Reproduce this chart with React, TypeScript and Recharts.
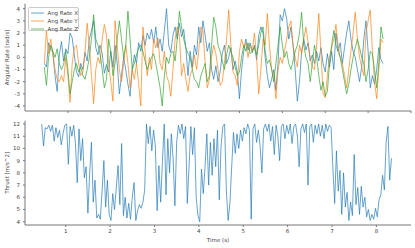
import React from 'react';
import { LineChart, Line, XAxis, YAxis, Legend } from 'recharts';

// ---- Angular rate series (sampled every 0.05 s starting at 0.45 s) ----
const rateStart = 0.45;
const rateStep = 0.05;
const angRateX = [
  -0.5, -0.8, 1.2, 0.6, 0.4, -1.5, -2.8, 0.2, 1.3, -0.3, 0.7,
  0.3, 2.0, 1.6, 0.2, -1.2, -1.6, -0.5, -1.0, 0.4, -0.3, 1.5, 2.2, 3.0, 0.8, 0.2, 1.0, 0.3, -1.3, -0.6, -1.2,
  0.5, -0.8, 1.0, -0.5, -3.0, -1.5, 0.0, -1.0, -2.2, -3.2, -1.0, 0.2, -0.5, 1.2, 0.5, 1.8, 1.0, 2.0, 1.5, 2.3,
  1.2, 2.5, 0.8, 1.5, 0.5, 2.2, 4.0, 1.0, 0.4, 1.8, 2.5, 1.5, 2.8, 1.7, 2.3, 0.8, -1.5, 0.5, -0.8, 1.0,
  0.2, 2.5, 1.2, 3.0, 1.8, 0.5, 1.2, -1.0, -1.8, -0.7, -2.0, -1.2, 0.3, 1.0, -0.5, 0.0, 0.8, -1.0, -0.3, -1.2,
  -3.4, -1.0, 0.5, 1.5, 0.6, 1.2, 0.4, 1.0, -0.2, 1.8, 2.5, 2.0, 0.0, -1.5, -2.5, -1.8, -1.0, -2.7, -0.5, 3.5,
  3.0, 4.0, 3.2, 1.5, 2.5, 1.0, -1.0, -3.6, -2.0, 0.5, 1.5, 0.6, 1.2, -0.3, 0.2, -0.5, 0.5, -0.3, 0.8, -0.5,
  -1.2, 0.3, -0.8, 0.5, -1.0, 2.0, 0.5, 1.2, -0.5, 0.8, 2.0, 3.0, 1.5, 0.5, 0.0, -1.0, -2.0, -0.8, 1.5, 3.0,
  0.5, -2.5, -1.5, -2.2, -1.0, 0.8, -0.2, -0.5,
];
const angRateY = [
  -0.5, 2.2, 0.3, 1.5, 0.2, -1.0, -1.8, -2.0, -1.5, -2.0, 0.0,
  -1.5, -3.7, -0.5, 0.8, 1.0, -0.5, -1.5, -1.2, 0.5, 2.8, 1.0, -1.5, -3.8, -1.0, 0.0, -0.5, 1.5, 2.7, 1.8, -0.5,
  -2.0, -3.6, 3.0, 1.0, -1.0, -2.0, -0.5, 1.0, -0.5, -2.5, -1.0, -1.8, -0.5, -2.2, -4.0, 2.5, 0.5, -1.5, 0.0, -1.0,
  1.5, 0.8, 1.6, -0.5, -1.0, 0.5, -1.5, -2.0, -3.2, -1.0, 1.5, 2.5, 1.8, -1.5, -0.5, -1.8, -2.8, -1.5, -1.0, 0.2,
  -1.0, 0.5, 2.5, 2.2, -0.5, -2.5, -1.8, 0.0, 1.0, 0.3, -1.0, -2.3, -2.0, -0.5, 1.5, 3.9, 1.0, -1.2, -1.5, -2.3,
  0.5, 1.5, 0.8, 1.2, 0.0, 1.0, 0.5, 2.0, 0.0, -3.0, -1.0, 1.5, 1.0, 3.6, 1.0, -1.0, -1.5, -3.4, -1.0, 0.0,
  -0.5, 0.5, 1.5, 2.5, 3.0, 1.0, 0.0, -0.8, 1.0, 0.3, 1.5, 2.5, 1.2, 0.0, -0.8, -1.0, 1.0, 3.6, 0.5, -3.0,
  -3.3, -1.5, 0.0, 0.8, 1.5, 2.7, 1.0, 0.0, -0.5, -1.5, -2.5, -1.0, 0.5, 2.0, 3.7, 1.5, 0.0, -0.8, -1.5, 2.0,
  3.0, 3.9, 0.5, -2.0, -3.4, -1.0, 1.5, 1.2,
];
const angRateZ = [
  -0.8, -2.3, 0.0, 1.0, 0.5, 0.0, 0.7, -0.5, -1.0, -0.6, 0.5,
  -1.0, -3.0, -2.0, -1.0, -0.5, -1.2, -0.8, -1.5, -1.8, -1.0, 0.0, 1.5, 3.5, 1.5, 1.0, 0.3, -1.0, -2.5, -1.8, 1.5,
  0.5, -1.5, -0.5, 1.5, 3.0, 1.5, 0.0, 1.0, 3.8, 1.5, -1.0, -0.5, 0.2, 0.8, 1.0, 0.5, -0.3, -1.0, -0.5, 0.0,
  0.3, -0.5, -1.5, -2.5, -4.0, -1.5, 0.0, -0.5, 0.3, 0.5, -0.3, 1.5, 3.8, 2.5, 1.5, 0.8, 0.3, 0.0, -1.0, -1.8,
  -2.0, -2.5, -1.5, -1.0, -0.5, -2.0, -1.5, 1.0, 3.3, 2.5, 1.0, 0.5, -0.3, -1.0, 0.2, 1.0, 0.5, 0.0, -0.8, -1.5,
  -1.2, 0.0, 1.0, 0.5, 1.2, 0.3, 0.5, 0.8, 0.2, 1.0, 2.0, 2.5, 0.5, -0.5, -0.2, -1.0, -2.0, -0.5, 1.0, 2.5,
  1.0, 0.0, 0.5, -0.5, -1.0, -0.3, 0.5, 1.0, 2.0, 3.7, 1.0, 0.0, -0.5, -2.0, -0.5, 1.0, 0.0, -1.5, -2.7, -2.0,
  -3.2, -2.8, -0.5, 1.0, 2.2, 1.0, 0.5, 0.0, -1.0, -2.0, -3.0, -2.2, -1.0, 0.0, 0.8, 1.5, 0.8, 0.0, -0.5, -2.0,
  -1.0, 0.5, 0.3, -1.0, -2.5, -0.5, 2.5, 1.5,
];

// ---- Thrust series (sampled every 0.04 s starting at 0.46 s) ----
const thrustStart = 0.46;
const thrustStep = 0.04;
const thrust = [
  12.0, 10.2, 11.7, 11.6, 11.9, 11.4, 11.9, 10.6, 11.7, 10.9,
  11.5, 10.3, 11.2, 11.9, 12.0, 8.7, 11.8, 11.0, 11.9, 10.4,
  7.2, 11.6, 9.0, 10.8, 7.6, 8.5, 4.7, 8.0, 10.5, 5.6,
  7.4, 4.3, 4.6, 4.2, 6.5, 9.0, 5.2, 7.4, 4.6, 4.1,
  6.3, 5.0, 6.8, 8.6, 5.4, 10.4, 4.5, 6.0, 4.3, 5.5,
  4.2, 6.0, 7.2, 4.1, 4.9, 5.4, 5.1, 5.6, 6.6, 12.0,
  10.4, 11.8, 9.8, 11.5, 10.2, 4.9, 8.6, 5.6, 9.0, 12.0,
  6.2, 10.8, 8.0, 11.2, 9.2, 5.3, 10.5, 11.9, 11.2, 12.0,
  10.8, 11.8, 5.5, 8.6, 11.8, 9.5, 11.7, 6.0, 4.5, 4.0,
  8.3, 6.3, 8.5, 11.2, 7.0, 10.5, 7.8, 10.8, 8.5, 11.5,
  5.8, 10.2, 11.8, 12.0, 6.5, 4.1, 5.5, 8.5, 11.3, 9.6,
  11.2, 10.0, 11.5, 10.6, 11.7, 11.2, 12.0, 11.5, 4.2, 11.6,
  12.0, 10.5, 11.5, 10.2, 8.0, 11.6, 12.0, 11.4, 12.0, 10.6,
  11.8, 9.5, 11.9, 11.0, 9.0, 11.8, 12.0, 10.8, 11.9, 11.2,
  12.0, 10.4, 11.8, 12.0, 11.0, 8.5, 11.6, 12.0, 11.3, 12.0,
  7.0, 11.8, 12.0, 10.5, 11.9, 11.2, 12.0, 11.0, 11.9, 10.8,
  12.0, 11.4, 11.9, 11.7, 8.4, 5.5, 9.8, 6.5, 8.2, 4.6,
  8.0, 5.2, 6.4, 4.1, 5.6, 4.5, 9.5, 5.4, 6.8, 4.6,
  6.9, 5.2, 6.0, 4.4, 5.0, 4.1, 4.6, 4.2, 5.1, 4.4,
  5.8, 6.2, 7.8, 6.6, 10.5, 11.8, 7.4, 9.2,
];

// ---- Axis ticks / labels ----
const topTicksX = [1, 2, 3, 4, 5, 6, 7, 8, 9];
const bottomTicksX = [1, 2, 3, 4, 5, 6, 7, 8];
const rateTicks = [-4, -3, -2, -1, 0, 1, 2, 3, 4];
const thrustTicks = [4, 5, 6, 7, 8, 9, 10, 11, 12];
const seriesNames = ['Ang Rate X', 'Ang Rate Y', 'Ang Rate Z'];
const seriesKeys = ['x', 'y', 'z'];
const seriesColors = ['#1f77b4', '#ff7f0e', '#2ca02c'];

const rateData = angRateX.map((v, i) => ({
  t: +(rateStart + i * rateStep).toFixed(3),
  x: v,
  y: angRateY[i],
  z: angRateZ[i],
}));
const thrustData = thrust.map((v, i) => ({
  t: +(thrustStart + i * thrustStep).toFixed(3),
  thrust: v,
}));

const FONT = 'DejaVu Sans, sans-serif';
const tickStyle = { fontSize: 5.5, fill: '#444', fontFamily: FONT };
const axisColor = '#777';
const LINE_OPACITY = 0.68;

const LegendBox = () => (
  <div
    style={{
      border: '0.8px solid #ccc',
      borderRadius: 2,
      background: 'rgba(255,255,255,0.85)',
      width: 51,
      height: 24,
      boxSizing: 'border-box',
      paddingTop: 1,
      fontFamily: FONT,
    }}
  >
    {seriesNames.map((n, i) => (
      <div key={n} style={{ display: 'flex', alignItems: 'center', height: 8.1 }}>
        <svg width={16} height={4} style={{ display: 'block' }}>
          <line x1={2} y1={2} x2={15} y2={2} stroke={seriesColors[i]} strokeWidth={1} strokeOpacity={LINE_OPACITY} />
        </svg>
        <span style={{ fontSize: 5.5, color: '#444', marginLeft: 2.5, lineHeight: '6px', whiteSpace: 'nowrap' }}>{n}</span>
      </div>
    ))}
  </div>
);

export default function App() {
  return (
    <div style={{ position: 'absolute', left: 0, top: 0, width: 415, height: 248, background: '#fff' }}>
      <div style={{ position: 'absolute', left: 0, top: 0 }}>
        <LineChart width={415} height={120} data={rateData} margin={{ top: 3.7, right: 4, left: 0, bottom: 4 }}>
          <XAxis
            dataKey="t"
            type="number"
            domain={[0, 9]}
            ticks={topTicksX}
            tickFormatter={() => ''}
            height={5}
            tickSize={2}
            axisLine={{ stroke: axisColor }}
            tickLine={{ stroke: axisColor }}
            allowDataOverflow
          />
          <YAxis
            type="number"
            domain={[-4.41, 4.41]}
            ticks={rateTicks}
            width={25}
            tickSize={2}
            tickMargin={3}
            tick={tickStyle}
            axisLine={{ stroke: axisColor }}
            tickLine={{ stroke: axisColor }}
            allowDataOverflow
            label={{
              value: 'Angular Rate [rad/s]',
              angle: -90,
              position: 'center',
              dx: -5.5,
              style: { fontSize: 5.5, fill: '#444', fontFamily: FONT, textAnchor: 'middle' },
            }}
          />
          <Legend
            layout="vertical"
            align="center"
            verticalAlign="middle"
            wrapperStyle={{ left: 28, top: 7, width: 52 }}
            content={() => <LegendBox />}
          />
          {seriesKeys.map((k, i) => (
            <Line
              key={k}
              type="linear"
              dataKey={k}
              name={seriesNames[i]}
              stroke={seriesColors[i]}
              strokeWidth={1}
              strokeOpacity={LINE_OPACITY}
              dot={false}
              activeDot={false}
              isAnimationActive={false}
            />
          ))}
        </LineChart>
      </div>
      <div style={{ position: 'absolute', left: 0, top: 115 }}>
        <LineChart width={415} height={133} data={thrustData} margin={{ top: 5.7, right: 4, left: 0, bottom: 0 }}>
          <XAxis
            dataKey="t"
            type="number"
            domain={[0.083, 8.78]}
            ticks={bottomTicksX}
            height={23}
            tickSize={2}
            tickMargin={2}
            tick={tickStyle}
            axisLine={{ stroke: axisColor }}
            tickLine={{ stroke: axisColor }}
            allowDataOverflow
            label={{
              value: 'Time (s)',
              position: 'center',
              dy: 4,
              style: { fontSize: 5.5, fill: '#444', fontFamily: FONT, textAnchor: 'middle' },
            }}
          />
          <YAxis
            type="number"
            domain={[3.73, 12.27]}
            ticks={thrustTicks}
            width={25}
            tickSize={2}
            tickMargin={3}
            tick={tickStyle}
            axisLine={{ stroke: axisColor }}
            tickLine={{ stroke: axisColor }}
            allowDataOverflow
            label={{
              value: 'Thrust [m/s^2]',
              angle: -90,
              position: 'center',
              dx: -5.5,
              style: { fontSize: 5.5, fill: '#444', fontFamily: FONT, textAnchor: 'middle' },
            }}
          />
          <Line
            type="linear"
            dataKey="thrust"
            name="Thrust"
            stroke="#1f77b4"
            strokeWidth={1}
            strokeOpacity={LINE_OPACITY}
            dot={false}
            activeDot={false}
            isAnimationActive={false}
          />
        </LineChart>
      </div>
    </div>
  );
}
